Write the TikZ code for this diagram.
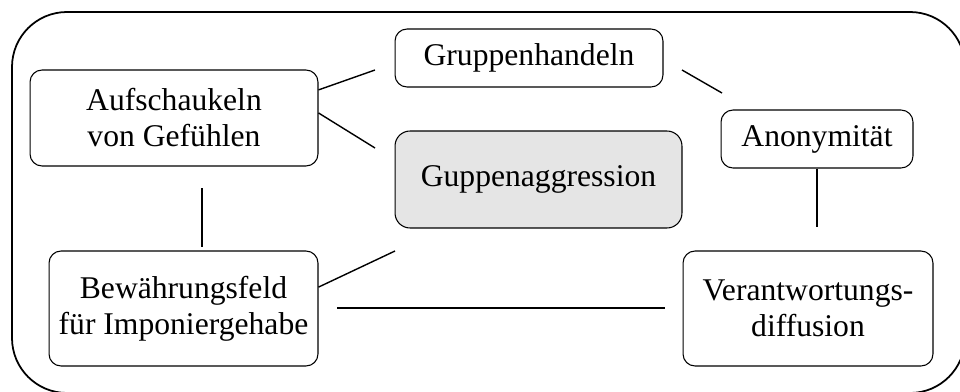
\documentclass[tikz,border=0pt]{standalone}
\usepackage{fontspec}
\setmainfont{Liberation Serif}
\tikzset{
  box/.style={draw, rounded corners=0.24cm, line width=0.6pt, align=center,
    inner sep=0pt, font=\fontsize{18}{20.5}\selectfont},
  corebox/.style={box, fill=gray!20, rounded corners=0.3cm},
  link/.style={line width=0.8pt}
}
\begin{document}
\begin{tikzpicture}[x=0.02cm, y=-0.02cm]
  \clip (0,0) rectangle (960,392);
  % frame
  \draw[line width=1pt, rounded corners=1.1cm] (12,12) rectangle (965,393);

  % boxes
  \node[box, minimum width=5.36cm, minimum height=1.16cm] (gruppen) at (529,58) {Gruppenhandeln};
  \node[box, minimum width=5.76cm, minimum height=1.92cm] (aufsch) at (174,118) {Aufschaukeln\\von Gefühlen};
  \node[corebox, minimum width=5.74cm, minimum height=1.94cm] (aggr) at (538.5,179.5) {Guppenaggression};
  \node[box, minimum width=3.84cm, minimum height=1.16cm] (anon) at (817,139) {Anonymität};
  \node[box, minimum width=5.38cm, minimum height=2.3cm] (bew) at (183.5,308.5) {Bewährungsfeld\\für Imponiergehabe};
  \node[box, minimum width=5.0cm, minimum height=2.3cm] (ver) at (808,308.5) {Verantwortungs-\\diffusion};

  % free line ends
  \coordinate (gruppen-l) at (375,70);
  \coordinate (aggr-ul) at (375,148);
  \coordinate (gruppen-r) at (682,70);
  \coordinate (anon-u) at (722,93);
  \coordinate (anon-d) at (817,227);
  \coordinate (aufsch-d) at (202,188);
  \coordinate (bew-u) at (202,247);
  \coordinate (aggr-dl) at (395,251);
  \coordinate (bew-r) at (337,308);
  \coordinate (ver-l) at (665,308);

  % connectors
  \draw[link] (aufsch.11) -- (gruppen-l);
  \draw[link] (aufsch.2) -- (aggr-ul);
  \draw[link] (gruppen-r) -- (anon-u);
  \draw[link] (anon.south) -- (anon-d);
  \draw[link] (aufsch-d) -- (bew-u);
  \draw[link] (bew.9) -- (aggr-dl);
  \draw[link] (bew-r) -- (ver-l);
\end{tikzpicture}
\end{document}
